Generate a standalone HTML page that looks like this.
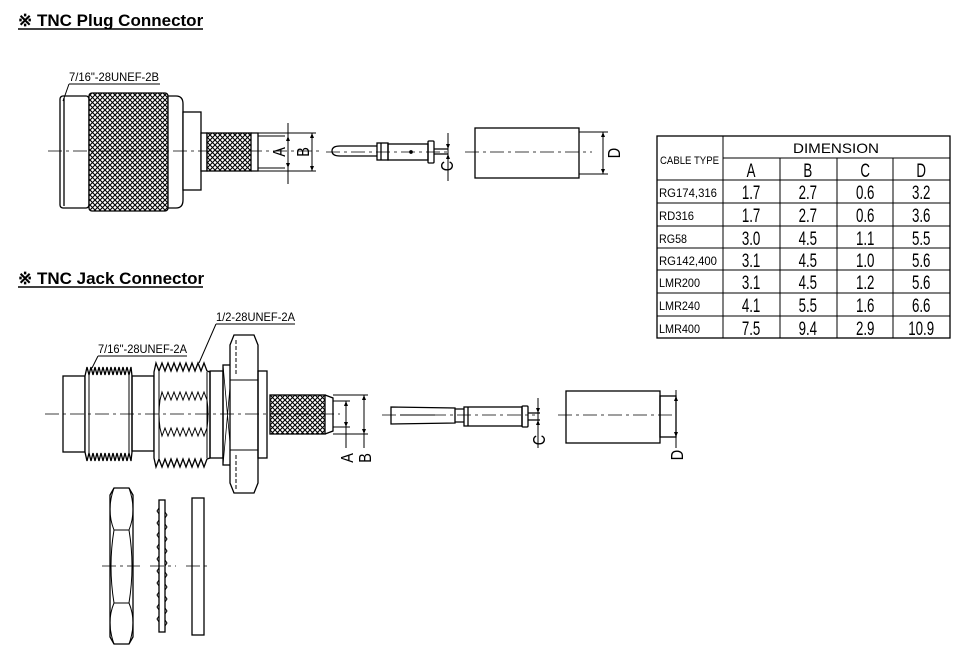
<!DOCTYPE html>
<html><head><meta charset="utf-8"><style>
body{margin:0;background:#fff;width:967px;height:657px;overflow:hidden}
svg{display:block}
.t{font-family:"Liberation Sans",sans-serif;font-weight:bold;font-size:17px}
.n{font-family:"Liberation Sans",sans-serif;fill:#000}
</style></head><body>
<svg width="967" height="657" viewBox="0 0 967 657" xmlns="http://www.w3.org/2000/svg">
<defs>
<pattern id="k" width="5" height="5" patternUnits="userSpaceOnUse">
<rect width="5" height="5" fill="#fff"/>
<path d="M0 0L5 5M5 0L0 5" stroke="#000" stroke-width="1.1"/>
</pattern>
</defs>
<text class="t" x="18" y="26">※ TNC Plug Connector</text>
<line x1="18" y1="29" x2="203" y2="29" stroke="#000" stroke-width="1.5"/>
<text class="t" x="18" y="284">※ TNC Jack Connector</text>
<line x1="18" y1="287" x2="203" y2="287" stroke="#000" stroke-width="1.5"/>

<g fill="none" stroke="#000" stroke-width="1.3">
<!-- PLUG -->
<rect x="60" y="96" width="29" height="112" rx="3" fill="#fff"/>
<line x1="64" y1="98" x2="64" y2="206"/>
<rect x="89" y="93" width="79" height="118" rx="3" fill="url(#k)"/>
<path d="M168 96H176Q183 96 183 104V200Q183 208 176 208H168Z" fill="#fff"/>
<rect x="183" y="112" width="18" height="78" fill="#fff"/>
<rect x="201" y="133" width="6" height="38" fill="#fff"/>
<rect x="207" y="133" width="44" height="38" fill="url(#k)"/>
<path d="M251 133H258V171H251"/>
<path d="M258 136H285M258 168H285M258 133H316M258 171H316" stroke-width="1"/>
<line x1="288" y1="123" x2="288" y2="184" stroke-width="1"/>
<line x1="312" y1="133" x2="312" y2="171" stroke-width="1"/>
<path d="M69 84H160M69 84L63 101" stroke-width="1"/>
<!-- pin -->
<path d="M377 146H340Q332 146 332 151Q332 156 340 156H377"/>
<rect x="377" y="143" width="11" height="17"/>
<line x1="381" y1="143" x2="381" y2="160"/>
<rect x="388" y="144" width="40" height="16"/>
<rect x="428" y="141" width="6" height="22" rx="1"/>
<path d="M434 149H448M434 154H448"/>
<line x1="448" y1="133" x2="448" y2="181" stroke-width="1"/>
<circle cx="411" cy="152" r="1.2" fill="#000"/>
<!-- ferrule -->
<rect x="475" y="128" width="104" height="50"/>
<path d="M579 132H608M579 174H608" stroke-width="1"/>
<line x1="603" y1="132" x2="603" y2="174" stroke-width="1"/>
<!-- JACK -->
<rect x="63" y="376" width="22" height="76"/>
<path d="M85 376 L87 367 L89 375 L91 367 L93 375 L95 367 L97 375 L99 367 L101 375 L103 367 L105 375 L107 367 L109 375 L111 367 L113 375 L115 367 L117 375 L119 367 L121 375 L123 367 L125 375 L127 367 L129 375 L131 367 L132 376 V452 L131 461 L129 453 L127 461 L125 453 L123 461 L121 453 L119 461 L117 453 L115 461 L113 453 L111 461 L109 453 L107 461 L105 453 L103 461 L101 453 L99 461 L97 453 L95 461 L93 453 L91 461 L89 453 L87 461 L85 452 Z" fill="#fff"/>
<path d="M89 375V453M129 375V453" stroke-width="1"/>
<rect x="132" y="376" width="22" height="75"/>
<path d="M154 372 L156 363 L159 371 L162 363 L165 371 L168 363 L171 371 L174 363 L177 371 L180 363 L183 371 L186 363 L189 371 L192 363 L195 371 L198 363 L201 371 L204 363 L207 371 L210 372 V458 L207 459 L204 467 L201 459 L198 467 L195 459 L192 467 L189 459 L186 467 L183 459 L180 467 L177 459 L174 467 L171 459 L168 467 L165 459 L162 467 L159 459 L156 467 L154 458 Z" fill="#fff"/>
<path d="M159 372V458M207 372V458" stroke-width="1"/>
<path d="M160 400 L162 392 L165 400 L168 392 L171 400 L174 392 L177 400 L180 392 L183 400 L186 392 L189 400 L192 392 L195 400 L198 392 L201 400 L204 392 L207 400 M160 428 L162 436 L165 428 L168 436 L171 428 L174 436 L177 428 L180 436 L183 428 L186 436 L189 428 L192 436 L195 428 L198 436 L201 428 L204 436 L207 428" stroke-width="1"/>
<path d="M160 400Q158 414 160 428M207 400Q209 414 207 428" stroke-width="1"/>
<rect x="210" y="371" width="13" height="87"/>
<rect x="223" y="365" width="9" height="100"/>
<path d="M223 365L232 465M232 365L223 465" stroke-width="0.8"/>
<path d="M234 335H254L258 345V483L254 493H234L230 483V345Z" fill="#fff"/>
<path d="M230 380H258M230 450H258" stroke-width="1"/>
<path d="M236 340V375M236 455V490" stroke-dasharray="4 2" stroke-width="1"/>
<rect x="258" y="371" width="9" height="87"/>
<rect x="270" y="395" width="55" height="39" fill="url(#k)"/>
<path d="M325 395L333 398V431L325 434"/>
<path d="M333 395H368M333 434H368M333 401H350M333 427H350" stroke-width="1"/>
<line x1="346" y1="401" x2="346" y2="448" stroke-width="1"/>
<line x1="364" y1="395" x2="364" y2="448" stroke-width="1"/>
<path d="M98 356H187M98 356L92 368M216 324H295M216 324L199 363" stroke-width="1"/>
<!-- jack pin -->
<path d="M391 407L455 408V423L391 424Z"/>
<path d="M400 415H435" stroke-width="1"/>
<path d="M455 409H464M455 422H464"/>
<rect x="464" y="407" width="58" height="19"/>
<line x1="468" y1="407" x2="468" y2="426"/>
<rect x="522" y="406" width="6" height="21" rx="1"/>
<path d="M528 413H540M528 420H540"/>
<line x1="538" y1="398" x2="538" y2="448" stroke-width="1"/>
<!-- jack ferrule -->
<rect x="566" y="391" width="94" height="52"/>
<rect x="660" y="396" width="16" height="41"/>
<line x1="676" y1="390" x2="676" y2="448" stroke-width="1"/>
<!-- nut & washers -->
<path d="M114 488H129L133 495V637L129 644H114L110 637V495Z"/>
<path d="M114 488Q106 510 114 530H129Q137 510 129 488M114 644Q106 622 114 603H129Q137 622 129 644M114 530Q108 566 114 603M129 530Q135 566 129 603" stroke-width="1"/>
<rect x="159" y="500" width="6" height="132"/>
<path d="M159 508l-2 3 2 3M159 520l-2 3 2 3M159 532l-2 3 2 3M159 544l-2 3 2 3M159 556l-2 3 2 3M159 568l-2 3 2 3M159 580l-2 3 2 3M159 592l-2 3 2 3M159 604l-2 3 2 3M159 616l-2 3 2 3M165 512l2 3-2 3M165 524l2 3-2 3M165 536l2 3-2 3M165 548l2 3-2 3M165 560l2 3-2 3M165 572l2 3-2 3M165 584l2 3-2 3M165 596l2 3-2 3M165 608l2 3-2 3M165 620l2 3-2 3" stroke-width="1"/>
<rect x="192" y="498" width="12" height="137"/>
</g>
<!-- arrows -->
<g fill="#000">
<path d="M288 136l-2 5h4zM288 168l-2-5h4zM312 133l-2 5h4zM312 171l-2-5h4zM448 149l-2-5h4zM448 154l-2 5h4zM603 132l-2 5h4zM603 174l-2-5h4z"/>
<path d="M346 401l-2 5h4zM346 427l-2-5h4zM364 395l-2 5h4zM364 434l-2-5h4zM538 413l-2-5h4zM538 420l-2 5h4zM676 396l-2 5h4zM676 437l-2-5h4z"/>
</g>
<!-- center lines -->
<g stroke="#000" stroke-width="0.8" stroke-dasharray="14 4 3 4" fill="none">
<line x1="48" y1="151" x2="320" y2="151"/>
<line x1="326" y1="152" x2="450" y2="152"/>
<line x1="465" y1="152" x2="592" y2="152"/>
<line x1="45" y1="414" x2="340" y2="414"/>
<line x1="382" y1="415" x2="535" y2="415"/>
<line x1="558" y1="415" x2="674" y2="415"/>
<line x1="102" y1="566" x2="140" y2="566"/>
<line x1="150" y1="566" x2="176" y2="566"/>
<line x1="186" y1="566" x2="208" y2="566"/>
</g>
<!-- labels -->
<g class="n" font-size="12">
<text x="69" y="81" textLength="90" lengthAdjust="spacingAndGlyphs">7/16"-28UNEF-2B</text>
<text x="98" y="353" textLength="89" lengthAdjust="spacingAndGlyphs">7/16"-28UNEF-2A</text>
<text x="216" y="321" textLength="79" lengthAdjust="spacingAndGlyphs">1/2-28UNEF-2A</text>
</g>
<g class="n" font-size="18">
<text transform="translate(285,152) rotate(-90) scale(0.8 1)" text-anchor="middle">A</text>
<text transform="translate(309,152) rotate(-90) scale(0.8 1)" text-anchor="middle">B</text>
<text transform="translate(453,166) rotate(-90) scale(0.8 1)" text-anchor="middle">C</text>
<text transform="translate(620,153) rotate(-90) scale(0.8 1)" text-anchor="middle">D</text>
<text transform="translate(353,458) rotate(-90) scale(0.8 1)" text-anchor="middle">A</text>
<text transform="translate(371,458) rotate(-90) scale(0.8 1)" text-anchor="middle">B</text>
<text transform="translate(545,440) rotate(-90) scale(0.8 1)" text-anchor="middle">C</text>
<text transform="translate(683,455) rotate(-90) scale(0.8 1)" text-anchor="middle">D</text>
</g>
<!-- table -->
<g stroke="#000" stroke-width="1" fill="none">
<rect x="657" y="136" width="293" height="202" stroke-width="1.3"/>
<path d="M723 158H950M657 180H950M657 203H950M657 226H950M657 248H950M657 270H950M657 293H950M657 316H950"/>
<path d="M723 136V338M780 158V338M837 158V338M893 158V338"/>
</g>
<g class="n" font-size="12">
<text x="836" y="153" font-size="14" text-anchor="middle" textLength="86" lengthAdjust="spacingAndGlyphs">DIMENSION</text>
<text x="660" y="164" font-size="11" textLength="59" lengthAdjust="spacingAndGlyphs">CABLE TYPE</text>
<text x="659" y="197" textLength="58" lengthAdjust="spacingAndGlyphs">RG174,316</text>
<text x="659" y="220" textLength="35" lengthAdjust="spacingAndGlyphs">RD316</text>
<text x="659" y="243" textLength="28" lengthAdjust="spacingAndGlyphs">RG58</text>
<text x="659" y="265" textLength="58" lengthAdjust="spacingAndGlyphs">RG142,400</text>
<text x="659" y="287" textLength="41" lengthAdjust="spacingAndGlyphs">LMR200</text>
<text x="659" y="310" textLength="41" lengthAdjust="spacingAndGlyphs">LMR240</text>
<text x="659" y="333" textLength="41" lengthAdjust="spacingAndGlyphs">LMR400</text>
</g>
<g class="n" font-size="19" text-anchor="middle" transform="scale(0.7 1)">
<text x="1073" y="177">A</text><text x="1154" y="177">B</text><text x="1236" y="177">C</text><text x="1316" y="177">D</text>
<text x="1073" y="199">1.7</text><text x="1154" y="199">2.7</text><text x="1236" y="199">0.6</text><text x="1316" y="199">3.2</text>
<text x="1073" y="222">1.7</text><text x="1154" y="222">2.7</text><text x="1236" y="222">0.6</text><text x="1316" y="222">3.6</text>
<text x="1073" y="245">3.0</text><text x="1154" y="245">4.5</text><text x="1236" y="245">1.1</text><text x="1316" y="245">5.5</text>
<text x="1073" y="267">3.1</text><text x="1154" y="267">4.5</text><text x="1236" y="267">1.0</text><text x="1316" y="267">5.6</text>
<text x="1073" y="289">3.1</text><text x="1154" y="289">4.5</text><text x="1236" y="289">1.2</text><text x="1316" y="289">5.6</text>
<text x="1073" y="312">4.1</text><text x="1154" y="312">5.5</text><text x="1236" y="312">1.6</text><text x="1316" y="312">6.6</text>
<text x="1073" y="335">7.5</text><text x="1154" y="335">9.4</text><text x="1236" y="335">2.9</text><text x="1316" y="335">10.9</text>
</g>
</svg>
</body></html>
